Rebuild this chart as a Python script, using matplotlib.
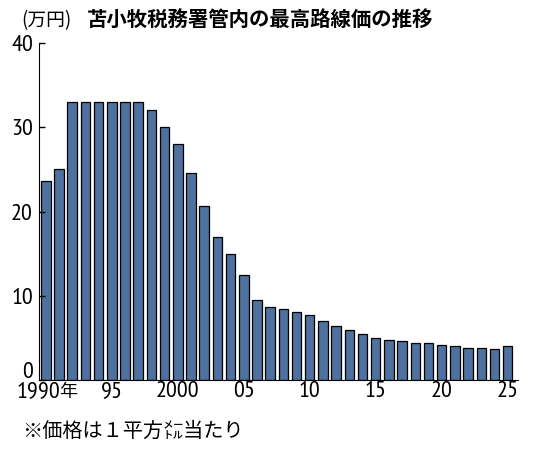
import matplotlib
matplotlib.use("Agg")
import matplotlib.pyplot as plt
import matplotlib.transforms as mtransforms
import numpy as np

years = np.arange(1990, 2026)
prices = [23.6, 25.0, 33.0, 33.0, 33.0, 33.0, 33.0, 33.0, 32.0, 30.0,
          28.0, 24.6, 20.6, 17.0, 15.0, 12.5, 9.5, 8.7, 8.4, 8.1,
          7.7, 7.0, 6.4, 5.9, 5.4, 5.0, 4.8, 4.6, 4.4, 4.35,
          4.1, 4.0, 3.75, 3.75, 3.65, 4.0]
xtick_pos = [1990, 1995, 2000, 2005, 2010, 2015, 2020, 2025]
xtick_labels = ["1990", "95", "2000", "05", "10", "15", "20", "25"]
year_suffix = "年"
yticks = [0, 10, 20, 30, 40]

jp = ["Noto Sans CJK JP", "DejaVu Sans"]
num = ["PT Sans Narrow", "Noto Sans CJK JP", "DejaVu Sans"]

fig = plt.figure(figsize=(5.35, 4.5), dpi=100)
ax = fig.add_axes([0.072, 0.1556, 0.896, 0.7488])

ax.bar(years, prices, width=0.72, color="#4E719D", edgecolor="black", linewidth=0.9)

ax.set_xlim(1989.45, 2025.77)
ax.set_ylim(0, 40)
for side in ["top", "right"]:
    ax.spines[side].set_visible(False)

ax.set_yticks(yticks)
ax.set_yticklabels([str(v) for v in yticks], family=num, fontsize=17.5)
ax.tick_params(axis="y", direction="in", length=4, width=1, pad=4)
zero = ax.get_yticklabels()[0]
zero.set_va("bottom")  # lift the 0 off the baseline
zero.set_transform(zero.get_transform() + mtransforms.ScaledTranslation(0, -0.03, fig.dpi_scale_trans))

ax.set_xticks(xtick_pos)
ax.set_xticklabels(xtick_labels, family=num, fontsize=17.5)
ax.tick_params(axis="x", length=0, pad=1)
# first label carries the 年 suffix, so nudge the digits left
first = ax.get_xticklabels()[0]
first.set_transform(first.get_transform() + mtransforms.ScaledTranslation(-0.075, 0, fig.dpi_scale_trans))
fig.text(0.110, 0.128, year_suffix, family=jp, fontsize=13, va="center")

fig.text(0.04, 0.955, "(万円)", family=jp, fontsize=13.5, va="center")
fig.text(0.163, 0.955, "苫小牧税務署管内の最高路線価の推移", family=jp,
         fontsize=14.7, fontweight="bold", va="center")
fig.text(0.041, 0.042, "※価格は１平方㍍当たり", family=jp, fontsize=14.5, va="center")

fig.savefig("out.png", dpi=100)
